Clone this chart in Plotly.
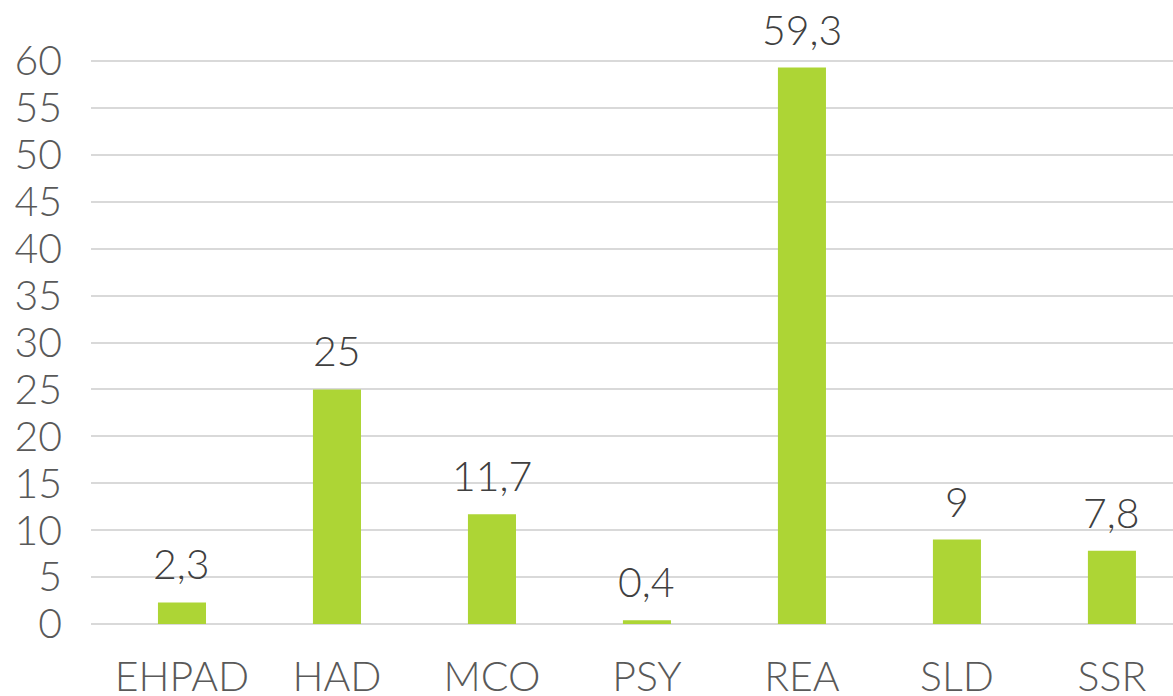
import plotly.graph_objects as go

categories = ["EHPAD", "HAD", "MCO", "PSY", "REA", "SLD", "SSR"]
values = [2.3, 25, 11.7, 0.4, 59.3, 9, 7.8]
y_ticks = list(range(0, 61, 5))

FONT = "Lato Light, Lato"
fig = go.Figure()
fig.add_trace(go.Bar(
    x=categories, y=values,
    marker=dict(color="#ADD535", line=dict(width=0)),
    width=0.31,
    hoverinfo="skip",
))
for c, v in zip(categories, values):
    fig.add_annotation(
        x=c, y=v, text=(f"{v:g}").replace(".", ","),
        showarrow=False, yanchor="bottom", yshift=12,
        font=dict(family=FONT, size=41, color="#404040"),
    )

fig.update_layout(
    width=1173, height=696,
    margin=dict(l=91, r=0, t=0, b=72, autoexpand=False),
    paper_bgcolor="white", plot_bgcolor="white",
    showlegend=False,
    separators=", ",
    font=dict(family=FONT, color="#595959"),
    xaxis=dict(
        range=[-0.587, 6.394], automargin=False,
        showgrid=False, showline=False, zeroline=False,
        tickfont=dict(family=FONT, size=41, color="#595959"),
        ticks="", ticklabelstandoff=25,
    ),
    yaxis=dict(
        range=[0, 66.5], automargin=False,
        tickvals=y_ticks,
        showgrid=True, gridcolor="#D9D9D9", gridwidth=2,
        zeroline=True, zerolinecolor="#D9D9D9", zerolinewidth=2,
        showline=False,
        tickfont=dict(family=FONT, size=41, color="#595959"),
        ticks="", ticklabelstandoff=28,
    ),
)
fig.write_html("out.html")
